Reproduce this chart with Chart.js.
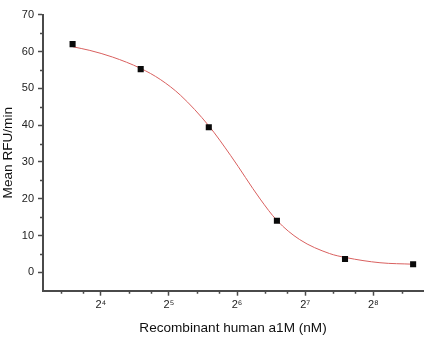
<!DOCTYPE html>
<html>
<head>
<meta charset="utf-8">
<script src="https://cdn.jsdelivr.net/npm/chart.js@4.4.1/dist/chart.umd.min.js"></script>
<style>
  html, body { margin: 0; padding: 0; background: #fff; }
  canvas { display: block; }
</style>
</head>
<body>
<canvas id="c" width="430" height="340"></canvas>
<script>
// measured points (nM, RFU/min)
var doseNM   = [12, 24, 48, 96, 192, 384];
var meanRFU  = [62.0, 55.2, 39.4, 14.0, 3.6, 2.2];

// fitted curve
var fitX = [12, 14.3, 18, 24, 29.3, 36, 48, 60, 81, 96, 121, 164, 194, 274, 384];
var fitY = [61.3, 60.3, 58.5, 55.4, 52.4, 48.1, 39.8, 31.7, 19.9, 14.1, 8.9, 5.1, 4.0, 2.6, 2.2];

// axis ticks
var xTicks = [16, 32, 64, 128, 256];
var xMinor = [10.67, 13.33, 21.33, 26.67, 42.67, 53.33, 85.33, 106.67, 170.67, 213.33, 341.33];
var yTicks = [0, 10, 20, 30, 40, 50, 60, 70];
var yMinor = [5, 15, 25, 35, 45, 55, 65];

var FONT = "Arial, 'Liberation Sans', sans-serif";
var AXIS = '#4a4a4a';
var sup = { 4: '\u2074', 5: '\u2075', 6: '\u2076', 7: '\u2077', 8: '\u2078' };

var points = doseNM.map(function (d, i) { return { x: d, y: meanRFU[i] }; });
var curve  = fitX.map(function (d, i) { return { x: d, y: fitY[i] }; });

// short minor ticks, placed through the scales
var minorTicks = {
  id: 'minorTicks',
  afterDraw: function (chart) {
    var ctx = chart.ctx, xs = chart.scales.x, ys = chart.scales.y;
    ctx.save();
    ctx.strokeStyle = AXIS;
    ctx.lineWidth = 1.5;
    ctx.beginPath();
    xMinor.forEach(function (v) {
      var px = Math.round(xs.getPixelForValue(v)) + 0.5;
      ctx.moveTo(px, xs.top);
      ctx.lineTo(px, xs.top + 3);
    });
    yMinor.forEach(function (v) {
      var py = Math.round(ys.getPixelForValue(v)) + 0.5;
      ctx.moveTo(ys.right, py);
      ctx.lineTo(ys.right - 3, py);
    });
    ctx.stroke();
    ctx.restore();
  }
};

new Chart(document.getElementById('c').getContext('2d'), {
  type: 'scatter',
  data: {
    datasets: [
      {
        data: points,
        pointStyle: 'rect',
        pointRadius: 4.3,
        backgroundColor: '#0a0a0a',
        borderColor: '#0a0a0a',
        borderWidth: 0,
        showLine: false
      },
      {
        data: curve,
        showLine: true,
        pointRadius: 0,
        borderColor: '#d9605f',
        borderWidth: 1,
        cubicInterpolationMode: 'monotone',
        fill: false
      }
    ]
  },
  options: {
    responsive: false,
    animation: false,
    layout: { padding: { top: 14.7, right: 7, left: 0, bottom: 0 } },
    plugins: { legend: { display: false }, tooltip: { enabled: false } },
    scales: {
      x: {
        type: 'logarithmic',
        min: 8.88,
        max: 424.6,
        afterBuildTicks: function (scale) {
          scale.ticks = xTicks.map(function (v) { return { value: v }; });
        },
        afterFit: function (scale) { scale.height = 49.3; },
        grid: { drawOnChartArea: false, tickLength: 5, tickColor: AXIS, tickWidth: 1.5 },
        border: { color: AXIS, width: 2 },
        ticks: {
          autoSkip: false,
          maxRotation: 0,
          padding: 3,
          color: '#222',
          font: { family: FONT, size: 11 },
          callback: function (v) { return '2' + sup[Math.round(Math.log2(v))]; }
        },
        title: {
          display: true,
          text: 'Recombinant human a1M (nM)',
          color: '#111',
          font: { family: FONT, size: 13.6 },
          padding: { top: 0, bottom: 4 }
        }
      },
      y: {
        min: -5,
        max: 70,
        afterBuildTicks: function (scale) {
          scale.ticks = yTicks.map(function (v) { return { value: v }; });
        },
        afterFit: function (scale) { scale.width = 43; },
        grid: { drawOnChartArea: false, tickLength: 5, tickColor: AXIS, tickWidth: 1.5 },
        border: { color: AXIS, width: 2 },
        ticks: {
          padding: 4,
          color: '#222',
          font: { family: FONT, size: 11 }
        },
        title: {
          display: true,
          text: 'Mean RFU/min',
          color: '#111',
          font: { family: FONT, size: 13.6 },
          padding: { top: 0, bottom: 0 }
        }
      }
    }
  },
  plugins: [minorTicks]
});
</script>
</body>
</html>
